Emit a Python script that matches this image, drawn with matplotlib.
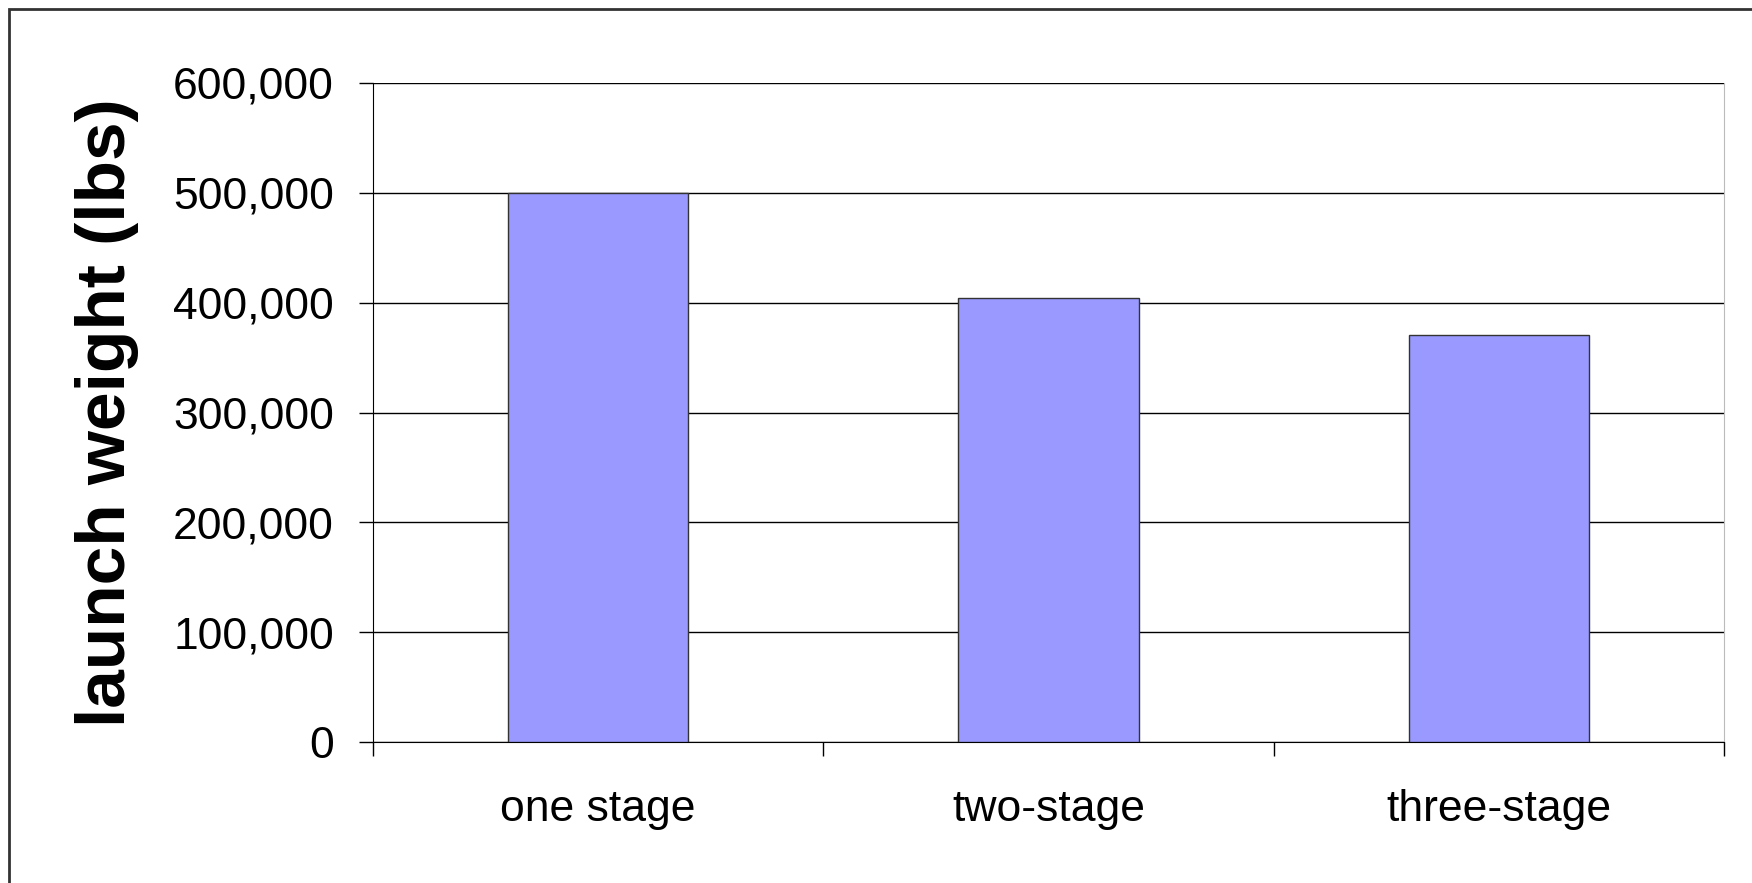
import numpy as np
import matplotlib.pyplot as plt
from matplotlib.patches import Rectangle
from matplotlib.ticker import FuncFormatter

plt.rcParams['font.family'] = ['Liberation Sans', 'DejaVu Sans']

stages = ['one stage', 'two-stage', 'three-stage']
weights = [500000, 404000, 371000]
yticks = [0, 100000, 200000, 300000, 400000, 500000, 600000]

W, H = 1752, 883
fig = plt.figure(figsize=(W / 100, H / 100), dpi=100)
ax = fig.add_axes([373 / W, 1 - 742 / H, (1724 - 373) / W, (742 - 83) / H])

# outer chart frame, runs off the right and bottom edges
fig.patches.append(Rectangle((9 / W, -0.05), 1.1, 1 - 9 / H + 0.05,
                             transform=fig.transFigure, fill=False,
                             edgecolor='#333333', linewidth=2.0))

x = np.arange(len(stages))
ax.bar(x, weights, width=0.4, color='#9999ff', edgecolor='#333333',
       linewidth=1.0, zorder=3)

ax.set_xlim(-0.5, len(stages) - 0.5)
ax.set_ylim(0, 600000)
ax.set_yticks(yticks)
ax.yaxis.set_major_formatter(FuncFormatter(lambda v, p: f'{int(v):,}'))
ax.grid(axis='y', color='black', linewidth=1.0, zorder=0)

# category labels sit between the boundary ticks
ax.set_xticks(np.arange(len(stages) + 1) - 0.5)
ax.set_xticklabels([])
ax.set_xticks(x, minor=True)
ax.set_xticklabels(stages, minor=True)
ax.tick_params(axis='x', which='major', length=10, width=1.0, direction='out')
ax.tick_params(axis='x', which='minor', length=0, pad=34, labelsize=32)
ax.tick_params(axis='y', length=10, width=1.0, direction='out', pad=18,
               labelsize=32)

ax.spines['top'].set_visible(False)
ax.spines['right'].set_color('#bbbbbb')
ax.spines['left'].set_color('black')
ax.spines['bottom'].set_color('black')

ax.set_ylabel('launch weight (lbs)', fontsize=50, fontweight='bold')
ax.yaxis.set_label_coords((107 - 373) / (1724 - 373), 0.5)
ax.yaxis.label.set_verticalalignment('center')

fig.savefig('out.png', dpi=100)
